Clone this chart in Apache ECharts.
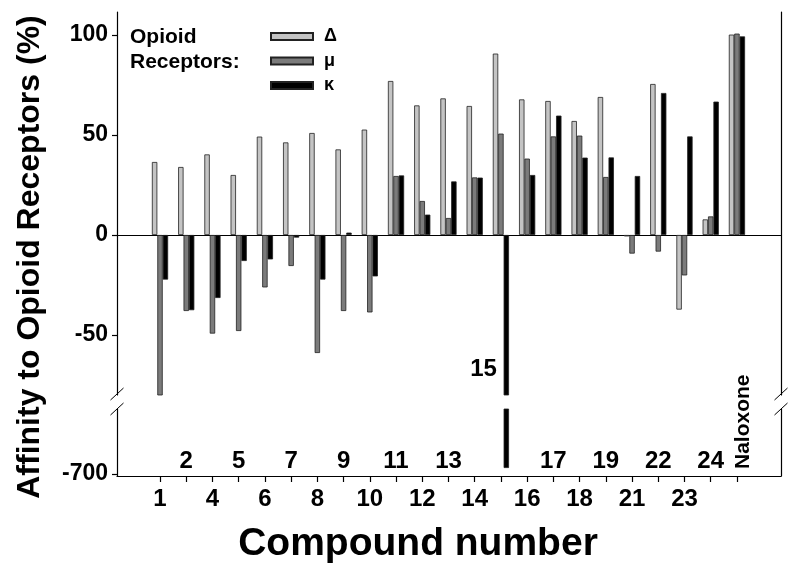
<!DOCTYPE html>
<html>
<head>
<meta charset="utf-8">
<script src="https://cdn.jsdelivr.net/npm/echarts@6/dist/echarts.min.js"></script>
<style>
  html, body { margin: 0; padding: 0; background: #fff; }
  #chart { width: 800px; height: 572px; }
</style>
</head>
<body>
<div id="chart"></div>
<script>
// compounds on the x axis, one group of three bars each
const compounds = ['1', '2', '4', '5', '6', '7', '8', '9', '10', '11', '12', '13', '14', '15', '16', '17', '18', '19', '21', '22', '23', '24', 'Naloxone'];
// affinity (%) per receptor
const deltaVals = [36.5, 34, 40.3, 30, 49.2, 46.3, 51, 42.8, 52.7, 77, 64.8, 68.3, 64.5, 90.7, 67.8, 67, 57, 69, -0.7, 75.5, -37.3, 7.8, 100.2];
const muVals = [-81, -38, -49.3, -48, -26.2, -15.5, -59, -38, -38.7, 29.5, 17, 8.5, 28.8, 50.7, 38.2, 49.3, 49.7, 29, -9.3, -8.3, -20.2, 9.3, 100.7];
const kappaVals = [-22.3, -37.6, -31.5, -13, -12.2, -1.3, -22.3, 1.2, -20.7, 29.8, 10.2, 26.8, 28.7, -697, 30, 59.7, 38.7, 38.8, 29.5, 71, 49.3, 66.7, 99.3];
// y tick labels, above and below the axis break
const yTicksUpper = [-50, 0, 50, 100];
const yTicksLower = [-700];

const FONT = 'Liberation Sans, Arial, Helvetica, sans-serif';
const idx = compounds.map((c, i) => i);
// lower row of x labels: even positions; upper row: odd ones (15 and Naloxone are placed by hand)
const lowerRow = idx.filter(i => i % 2 === 0 && compounds[i] !== 'Naloxone');
const upperRow = idx.filter(i => i % 2 === 1 && compounds[i] !== '15');

const chart = echarts.init(document.getElementById('chart'));

// two grids = broken y axis
const G_LEFT = 117, G_RIGHT = 19;
const UP_TOP = 12, UP_H = 383;
const LO_TOP = 409, LO_H = 67;
const X_MIN = -1.64, X_MAX = 23.68;

const receptors = [
  { name: 'Δ', data: deltaVals, color: '#c4c4c4' },
  { name: 'μ', data: muVals, color: '#7b7b7b' },
  { name: 'κ', data: kappaVals, color: '#000000' }
];

const black = { color: '#000', width: 1.2 };
const tickFont = { color: '#000', fontFamily: FONT, fontWeight: 'bold', fontSize: 23 };

function yAxis(grid, min, max, ticks, right) {
  return {
    type: 'value', gridIndex: grid, min: min, max: max,
    position: right ? 'right' : 'left',
    splitLine: { show: false },
    axisLine: { show: true, onZero: false, lineStyle: black },
    axisTick: { show: !right, length: 5, lineStyle: black, customValues: ticks },
    axisLabel: { show: !right, margin: 9, customValues: ticks, ...tickFont }
  };
}

const series = [];
[0, 1].forEach(g => {
  receptors.forEach(r => {
    series.push({
      type: 'bar',
      name: r.name,
      xAxisIndex: g === 0 ? 0 : 1,
      yAxisIndex: g === 0 ? 0 : 2,
      data: r.data.map((v, i) => [i, v]),
      barWidth: 5.4,
      barGap: '0%',
      clip: true,
      itemStyle: { color: r.color, borderColor: '#222', borderWidth: 0.8 }
    });
  });
});

const option = {
  animation: false,
  backgroundColor: '#fff',
  title: {
    text: 'Opioid\nReceptors:',
    left: 130, top: 25, padding: 0,
    textStyle: { fontFamily: FONT, fontWeight: 'bold', fontSize: 21, lineHeight: 25, color: '#000' }
  },
  legend: {
    data: ['Δ', 'μ', 'κ'],
    orient: 'vertical',
    left: 270, top: 27.5, padding: 0,
    icon: 'rect',
    itemWidth: 42, itemHeight: 7, itemGap: 6.5,
    textStyle: { fontFamily: FONT, fontWeight: 'bold', fontSize: 18, lineHeight: 18, color: '#000', padding: [0, 0, 0, 6] }
  },
  grid: [
    { left: G_LEFT, right: G_RIGHT, top: UP_TOP, height: UP_H },
    { left: G_LEFT, right: G_RIGHT, top: LO_TOP, height: LO_H }
  ],
  xAxis: [
    {
      type: 'value', gridIndex: 0, min: X_MIN, max: X_MAX,
      splitLine: { show: false },
      axisLine: { show: true, onZero: true, lineStyle: black },
      axisTick: { show: false },
      axisLabel: { show: false }
    },
    {
      type: 'value', gridIndex: 1, min: X_MIN, max: X_MAX, position: 'bottom',
      splitLine: { show: false },
      axisLine: { show: true, onZero: false, lineStyle: black },
      axisTick: { show: true, length: 6, lineStyle: black, customValues: idx },
      axisLabel: { margin: 11, customValues: lowerRow, formatter: v => compounds[Math.round(v)], fontSize: 24, fontFamily: FONT, fontWeight: 'bold', color: '#000' }
    },
    {
      type: 'value', gridIndex: 1, min: X_MIN, max: X_MAX, position: 'bottom',
      splitLine: { show: false },
      axisLine: { show: false, onZero: false },
      axisTick: { show: false },
      axisLabel: { inside: true, margin: 3, customValues: upperRow, formatter: v => compounds[Math.round(v)], fontSize: 24, fontFamily: FONT, fontWeight: 'bold', color: '#000' }
    }
  ],
  yAxis: [
    yAxis(0, -80, 111.5, yTicksUpper, false),
    yAxis(0, -80, 111.5, [], true),
    yAxis(1, -701, -667.5, yTicksLower, false),
    yAxis(1, -701, -667.5, [], true)
  ],
  series: series
};

chart.setOption(option);

// hand placed labels and break marks
const x15 = chart.convertToPixel({ xAxisIndex: 1 }, compounds.indexOf('15'));
const y15 = chart.convertToPixel({ yAxisIndex: 0 }, -67);
const xNal = chart.convertToPixel({ xAxisIndex: 1 }, compounds.indexOf('Naloxone'));
const yNal = chart.convertToPixel({ yAxisIndex: 2 }, -697.5);
const upBottom = UP_TOP + UP_H;
const rightX = 800 - G_RIGHT;

function slash(x, y) {
  return { type: 'line', shape: { x1: x - 6.5, y1: y + 6, x2: x + 6.5, y2: y - 6 }, style: { stroke: '#000', lineWidth: 1 } };
}

chart.setOption({
  graphic: [
    { type: 'text', x: x15 - 4, y: y15, style: { text: '15', align: 'right', verticalAlign: 'middle', font: 'bold 24px ' + FONT, fill: '#000' } },
    { type: 'text', x: xNal + 6, y: yNal, rotation: Math.PI / 2, style: { text: 'Naloxone', align: 'left', verticalAlign: 'middle', font: 'bold 21px ' + FONT, fill: '#000' } },
    { type: 'text', x: 30, y: 257, rotation: Math.PI / 2, style: { text: 'Affinity to Opioid Receptors (%)', align: 'center', verticalAlign: 'middle', font: 'bold 32px ' + FONT, fill: '#000' } },
    { type: 'text', x: 418, y: 544, style: { text: 'Compound number', align: 'center', verticalAlign: 'middle', font: 'bold 39px ' + FONT, fill: '#000' } },
    slash(G_LEFT, upBottom - 1), slash(G_LEFT, LO_TOP),
    slash(rightX, upBottom - 1), slash(rightX, LO_TOP)
  ]
});
</script>
</body>
</html>
